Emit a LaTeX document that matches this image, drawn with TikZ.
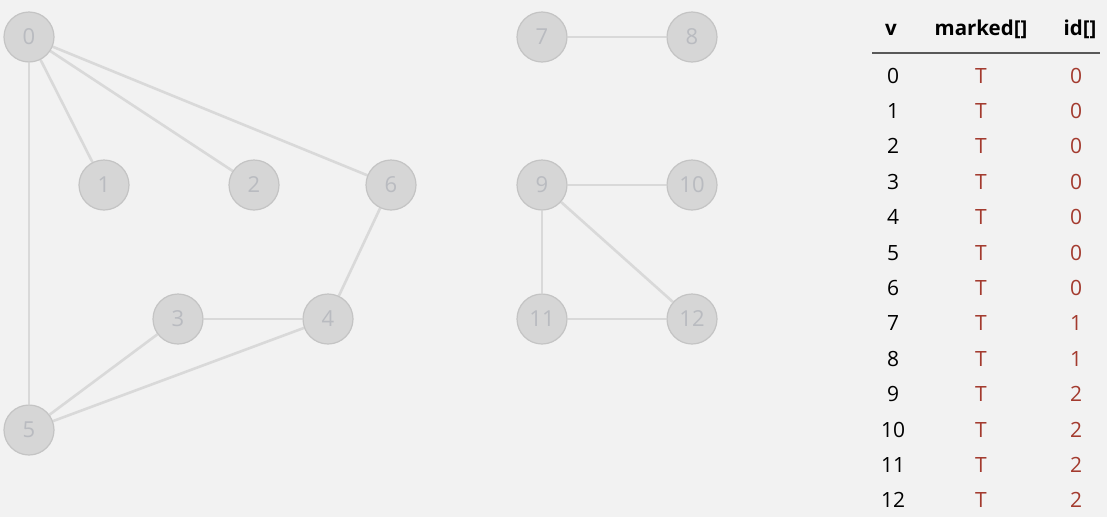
\documentclass[tikz,border=0pt]{standalone}
\usepackage{fontspec}
\setmainfont{Open Sans}
\usepackage{xcolor}
\usepackage{tikz}
\usetikzlibrary{calc,backgrounds}
\definecolor{bgx}{HTML}{F2F2F2}
\definecolor{nodefill}{HTML}{D6D6D6}
\definecolor{nodeline}{HTML}{C4C4C4}
\definecolor{edgex}{HTML}{D9D9D9}
\definecolor{labx}{HTML}{B9BBC0}
\definecolor{redx}{HTML}{A33A2E}
\tikzset{
  vx/.style={circle,draw=nodeline,line width=1.2pt,fill=nodefill,minimum size=50pt,inner sep=0pt,text=labx,font=\fontsize{22}{22}\selectfont},
  ed/.style={draw=edgex,line width=2.6pt},
  hd/.style={font=\fontsize{20.5}{20}\selectfont\bfseries,anchor=base},
  cl/.style={font=\fontsize{21}{21}\selectfont,anchor=base},
  cr/.style={cl,text=redx}
}
\begin{document}
\begin{tikzpicture}[x=1pt,y=-1pt]
\useasboundingbox (0,0) rectangle (1107,517);
% graph
\node[vx] (v0) at (29,37) {0};
\node[vx] (v1) at (104,185) {1};
\node[vx] (v2) at (254,185) {2};
\node[vx] (v6) at (391,185) {6};
\node[vx] (v3) at (178,319) {3};
\node[vx] (v4) at (328,319) {4};
\node[vx] (v5) at (29,430) {5};
\node[vx] (v7) at (542,37) {7};
\node[vx] (v8) at (692,37) {8};
\node[vx] (v9) at (542,185) {9};
\node[vx] (v10) at (692,185) {10};
\node[vx] (v11) at (542,319) {11};
\node[vx] (v12) at (692,319) {12};
\begin{scope}[on background layer]
\fill[bgx] (0,0) rectangle (1107,517);
\foreach \a/\b in {0/1,0/2,0/6,0/5,6/4,3/4,3/5,4/5,7/8,9/10,9/11,9/12,11/12}
  {\draw[ed] (v\a) -- (v\b);}
\end{scope}
% table
\node[hd] (hv) at (891,35) {v};
\node[hd] (hm) at (981,35) {marked[]};
\node[hd] (hi) at (1080,35) {id[]};
\coordinate (rl) at (872,53);
\coordinate (rr) at (1100,53);
\draw[line width=1.6pt,black!65] (rl) -- (rr);
\foreach \v/\id [count=\k from 0] in {0/0,1/0,2/0,3/0,4/0,5/0,6/0,7/1,8/1,9/2,10/2,11/2,12/2}{
  \node[cl] (r\k) at (893,83+35.4*\k) {\v};
  \node[cr] (m\k) at (981,83+35.4*\k) {T};
  \node[cr] (i\k) at (1076,83+35.4*\k) {\id};
}
\end{tikzpicture}
\end{document}
